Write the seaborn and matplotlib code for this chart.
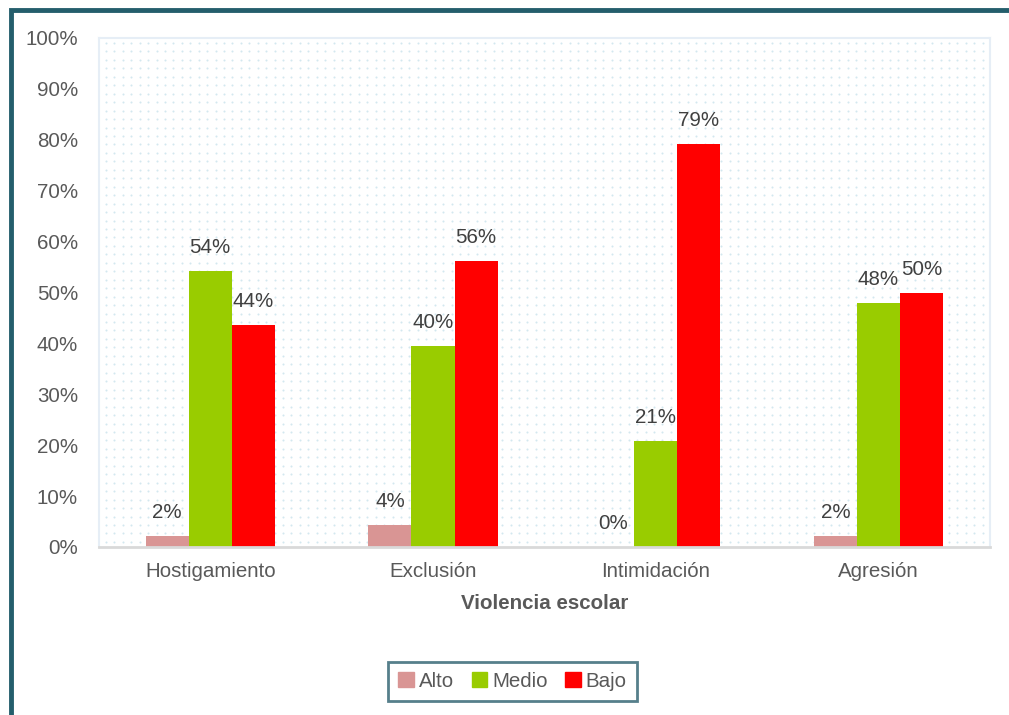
import matplotlib
matplotlib.use("Agg")
import matplotlib.pyplot as plt
import seaborn as sns
import pandas as pd
import numpy as np
from matplotlib.patches import Rectangle
from matplotlib.lines import Line2D

# datos (% por nivel)
categorias = ["Hostigamiento", "Exclusión", "Intimidación", "Agresión"]
niveles = ["Alto", "Medio", "Bajo"]
alto = [2.2, 4.3, 0.0, 2.2]
medio = [54.2, 39.5, 20.8, 47.9]
bajo = [43.6, 56.2, 79.2, 49.9]
colores = ["#D99594", "#99CC00", "#FF0000"]

df = pd.DataFrame({
    "categoria": categorias * 3,
    "nivel": [n for n in niveles for _ in categorias],
    "valor": alto + medio + bajo,
})

sns.set_theme(style="white")
plt.rcParams["font.family"] = ["Liberation Sans", "DejaVu Sans"]
gris = "#595959"
fs = 14.8

fig = plt.figure(figsize=(10.09, 7.15), dpi=100)
ax = fig.add_axes([0.098, 0.235, 0.883, 0.712])

# fondo punteado (decorativo, en coordenadas del eje)
gx, gy = np.meshgrid(np.linspace(0.008, 0.992, 105), np.linspace(0.01, 0.99, 60))
ax.scatter(gx.ravel(), gy.ravel(), s=2.2, color="#D3E8EF", linewidths=0,
           transform=ax.transAxes, zorder=0)

sns.barplot(data=df, x="categoria", y="valor", hue="nivel", order=categorias,
            hue_order=niveles, palette=colores, width=0.58, gap=0,
            saturation=1, ax=ax, zorder=2, edgecolor="none")

for cont in ax.containers:
    ax.bar_label(cont, labels=[f"{v:.0f}%" for v in cont.datavalues],
                 padding=10, fontsize=fs, color="#404040")

ax.set_ylim(0, 100)
ax.set_xlim(-0.5, 3.5)
ax.set_yticks(range(0, 101, 10))
ax.set_yticklabels([f"{t}%" for t in range(0, 101, 10)])
ax.tick_params(axis="y", labelsize=fs, labelcolor=gris, length=0, pad=15)
ax.tick_params(axis="x", labelsize=fs, labelcolor=gris, length=0, pad=11)
ax.set_xlabel("Violencia escolar", fontsize=fs, fontweight="bold",
              color=gris, labelpad=9)
ax.set_ylabel("")

for s in ["top", "right", "left"]:
    ax.spines[s].set_color("#E6EEF6")
    ax.spines[s].set_linewidth(1.5)
ax.spines["bottom"].set_color("#D9D9D9")
ax.spines["bottom"].set_linewidth(2)

ax.get_legend().remove()
handles = [Rectangle((0, 0), 1, 1, color=c) for c in colores]
leg = fig.legend(handles, niveles, loc="center", bbox_to_anchor=(0.508, 0.047),
                 ncol=3, frameon=True, fontsize=fs, handlelength=0.75,
                 handleheight=0.75, handletextpad=0.25, columnspacing=0.85,
                 borderpad=0.5, borderaxespad=0.3, fancybox=False)
leg.get_frame().set_edgecolor("#2C5F6E")
leg.get_frame().set_linewidth(2)
for t in leg.get_texts():
    t.set_color(gris)

# marco exterior
x0 = 11 / 1009
y0 = 1 - 10 / 715
fig.add_artist(Line2D([x0, x0, 1], [0, y0, y0], transform=fig.transFigure,
                      color="#245E6C", linewidth=3.5, solid_joinstyle="miter"))

fig.savefig("out.png", dpi=100)
